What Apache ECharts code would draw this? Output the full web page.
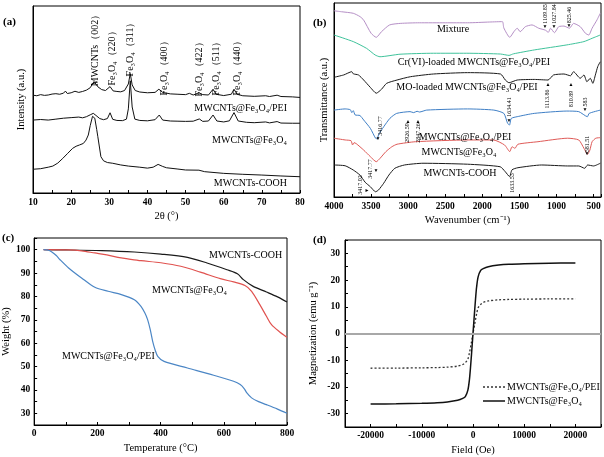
<!DOCTYPE html>
<html><head><meta charset="utf-8">
<script src="https://cdn.jsdelivr.net/npm/echarts@6/dist/echarts.min.js"></script>
<style>html,body{margin:0;padding:0;background:#fff}#c{width:604px;height:457px}</style>
</head><body><div id="c"></div>
<script>
// ---------- (a) XRD: [2theta, intensity a.u.] ----------
const xrdPEI = [[10,52.3],[11,52.0],[12,52.6],[13,52.2],[14,52.4],[15,52.9],[16,53.1],[17,52.8],[18,53.4],[18.5,54.5],[19,53.2],[20,53.6],[21,54.4],[22,53.8],[23,54.3],[24,55.0],[25,56.3],[26,59.6],[27,56.8],[28,55.3],[29,54.8],[30.2,56.9],[31,54.6],[32,54.3],[33,54.1],[34,54.8],[35,58.3],[35.5,63.9],[36,57.8],[36.8,54.8],[38,54.0],[40,53.6],[42,53.8],[43,55.5],[44,53.8],[46,53.0],[48,52.8],[50,52.6],[51,53.3],[52,52.4],[53.5,53.6],[54.5,52.6],[56,52.4],[57.2,55.5],[58,52.8],[60,52.1],[62,52.8],[62.7,55.5],[63.5,52.8],[65,52.0],[68,51.7],[71,52.0],[72,51.6],[74,52.3],[75,51.6],[78,51.4],[80,51.1]];
const xrdFe = [[10,39.0],[12,39.3],[14,39.0],[16,39.5],[18,40.0],[20,40.3],[22,40.6],[23,40.2],[24,40.8],[25,41.8],[25.8,42.6],[26.5,41.5],[27.5,39.8],[28.5,39.2],[29.5,39.8],[30.2,42.9],[30.9,39.4],[32,38.8],[33.5,38.7],[34.5,39.5],[35,45.0],[35.5,60.0],[36,46.0],[36.7,39.5],[38,38.8],[40,38.6],[42,39.2],[43.1,41.7],[44,39.0],[46,38.5],[48,38.4],[50,38.3],[52,38.4],[53.6,39.6],[54.5,38.3],[56,38.5],[57.2,41.7],[58.2,38.5],[60,38.0],[61.5,38.6],[62.7,43.0],[63.8,38.5],[66,37.8],[68,37.6],[71,38.0],[72,37.5],[74,38.2],[75,37.4],[78,37.3],[80,37.3]];
const xrdCOOH = [[10,12.7],[12,13.0],[14,13.8],[15.2,14.4],[16.5,16.0],[17.8,18.5],[19,21.0],[20.4,23.9],[21.3,25.0],[22.2,25.7],[23.2,26.5],[23.9,28.3],[24.5,31.0],[25,36.0],[25.6,41.0],[26.2,40.0],[26.7,34.0],[27,30.1],[27.8,19.4],[28.5,17.2],[29.5,16.3],[30.9,15.9],[33,15.0],[35,14.4],[38,13.8],[40,13.3],[41.5,13.8],[42.8,15.3],[44,14.2],[45,13.5],[48,12.8],[50,12.3],[53.5,12.2],[55,11.4],[60,10.5],[65,10.0],[70,9.6],[75,9.1],[80,8.7]];

// ---------- (b) FTIR: [wavenumber, transmittance a.u.] ----------
const ftirMixture = [[4000,96.0],[3900,95.5],[3740,94.7],[3650,93.0],[3600,91.2],[3500,84.4],[3430,82.3],[3360,85.2],[3250,88.7],[3100,89.5],[2850,89.8],[2500,89.8],[2200,89.8],[1900,90.2],[1730,90.4],[1710,87.1],[1630,82.3],[1575,85.2],[1530,87.0],[1490,85.2],[1420,87.8],[1330,88.7],[1240,87.0],[1150,86.0],[1110,84.9],[1080,87.0],[1028,84.7],[970,87.8],[900,88.1],[825,87.0],[770,89.5],[680,87.8],[610,84.4],[565,83.5],[520,87.0],[455,91.2],[410,94.7]];
const ftirCr = [[4000,83.5],[3740,80.1],[3560,76.6],[3445,73.2],[3380,72.3],[3110,73.6],[2660,74.1],[2210,74.1],[1755,73.7],[1640,73.0],[1580,73.8],[1300,75.8],[860,78.4],[630,80.1],[520,81.8],[410,83.5]];
const ftirMO = [[4000,61.7],[3870,62.9],[3760,64.6],[3740,63.5],[3670,62.9],[3600,60.3],[3510,56.5],[3430,53.5],[3360,55.5],[3290,58.6],[3150,60.3],[2970,62.0],[2660,63.4],[2200,64.1],[1755,63.4],[1690,60.3],[1640,58.9],[1530,60.3],[1300,60.6],[1114,60.3],[1040,62.9],[900,63.4],[811,62.5],[770,64.6],[680,61.2],[630,62.9],[590,59.4],[545,61.2],[510,58.6],[476,62.9],[444,67.2],[410,69.7]];
const ftirPEI = [[4000,44.8],[3850,45.4],[3780,45.0],[3760,43.5],[3740,44.5],[3715,42.3],[3650,42.0],[3600,39.7],[3510,35.4],[3440,30.3],[3417,30.0],[3400,32.0],[3330,36.2],[3245,40.6],[3155,43.1],[2975,44.0],[2926,43.5],[2880,44.2],[2847,43.8],[2750,44.8],[2200,45.4],[1845,44.8],[1710,43.1],[1660,38.0],[1634,37.1],[1610,40.5],[1530,41.4],[1300,43.1],[860,44.3],[700,44.0],[583,41.4],[560,43.1],[409,44.8]];
const ftirFe = [[4000,30.3],[3850,29.4],[3770,29.0],[3750,26.8],[3730,28.0],[3700,27.5],[3600,24.2],[3510,20.8],[3430,18.2],[3380,19.9],[3300,23.4],[3220,25.9],[3150,27.2],[2900,28.5],[2200,29.4],[1850,29.4],[1700,26.8],[1630,23.4],[1600,25.9],[1560,25.1],[1520,27.2],[1250,28.5],[850,30.3],[700,29.4],[630,25.1],[582,22.0],[550,24.2],[520,28.5],[470,30.3],[409,30.6]];
const ftirCOOH = [[4000,16.5],[3850,16.1],[3740,13.9],[3650,11.3],[3580,7.6],[3510,5.3],[3440,2.7],[3400,3.6],[3330,7.1],[3260,11.3],[3180,14.8],[3050,16.5],[2800,17.4],[2200,16.9],[1760,15.6],[1690,13.0],[1633,10.5],[1600,14.0],[1520,15.1],[1200,16.5],[850,16.0],[700,16.0],[620,14.8],[580,16.5],[500,16.0],[409,17.4]];

// ---------- (c) TGA: [temperature, weight %] ----------
const tgaCOOH = [[30,100],[100,99.9],[213,99.6],[317,99.0],[401,98.1],[485,96.7],[547,94.3],[610,91.4],[643,89.7],[662,87.2],[693,84.3],[735,81.9],[770,79.8],[800,77.6]];
const tgaFe = [[30,100],[109,99.9],[150,99.5],[192,98.6],[230,97.8],[265,96.7],[300,96.0],[338,95.3],[401,94.4],[464,92.9],[526,90.4],[589,87.6],[631,86.2],[667,84.7],[688,82.2],[714,76.5],[735,71.5],[751,67.9],[777,64.8],[800,62.5]];
const tgaPEI = [[30,100],[45,99.8],[56,99.0],[70,97.5],[82,95.7],[109,92.2],[150,87.9],[192,83.9],[234,82.2],[276,80.8],[317,78.6],[338,75.8],[350,73.0],[359,70.1],[367,66.0],[375,60.8],[383,57.0],[391,54.4],[411,52.2],[485,49.4],[568,46.3],[631,43.7],[652,42.3],[665,40.5],[673,38.7],[688,36.6],[710,35.0],[735,33.7],[770,31.8],[800,30.0]];

// ---------- (d) VSM: field (Oe) and magnetization (emu/g) ----------
const vsmField = [-20000,-15000,-10000,-7000,-5000,-3000,-2000,-1500,-1000,-700,-500,-300,-150,0,150,300,500,700,1000,1500,2000,3000,5000,7000,10000,15000,20000];
const vsmFe  = [-26.4,-26.3,-26.1,-25.9,-25.6,-25.0,-24.3,-23.6,-21.2,-17.3,-13.0,-8.0,-4.0,0,4.0,8.0,13.0,17.3,21.2,23.6,24.3,25.0,25.6,25.9,26.1,26.3,26.4];
const vsmPEI = [-13.0,-12.95,-12.85,-12.75,-12.6,-12.2,-11.6,-10.9,-9.6,-7.3,-5.3,-3.2,-1.6,0,1.6,3.2,5.3,7.3,9.6,10.9,11.6,12.2,12.6,12.75,12.85,12.95,13.0];
const vsmNames = ['MWCNTs@Fe₃O₄/PEI', 'MWCNTs@Fe₃O₄'];

const FONT = "'Liberation Serif','Times New Roman',serif";
const chart = echarts.init(document.getElementById('c'), null, {renderer:'canvas'});

function axisBase(gridIndex, extra) {
  return Object.assign({
    gridIndex, type:'value',
    axisLine:{show:true, onZero:false, lineStyle:{color:'#000', width:1}},
    axisTick:{show:true, inside:true, length:3, lineStyle:{color:'#000'}},
    splitLine:{show:false},
    axisLabel:{show:true, interval:0, color:'#000', fontFamily:FONT, fontSize:9.5, fontWeight:'bold', margin:5},
    nameLocation:'middle',
    nameTextStyle:{color:'#000', fontFamily:FONT, fontSize:10.5}
  }, extra);
}
function lbl(step, absv) {
  return function(v){ const r = Math.round(v); return (Math.abs(r) % step === 0) ? String(absv ? Math.abs(r) : r) : ''; };
}
function txt(x, y, s, o) {
  o = o || {};
  return {type:'text', x, y, rotation:o.rot||0, z:100,
    style:{text:s, fill:o.color||'#000', font:(o.bold?'bold ':'')+(o.size||10)+'px '+FONT,
      textAlign:o.align||'center', textVerticalAlign:'middle'}};
}
const R = Math.PI/2;

const grids = [
  {left:33, top:6, width:267, height:187},
  {left:334, top:3, width:268, height:194},
  {left:32, top:238, width:255, height:187},
  {left:345, top:240, width:256, height:187}
].map(g => Object.assign(g, {show:true, borderColor:'#000', borderWidth:1, backgroundColor:'transparent'}));

const xAxes = [
  axisBase(0, {min:10, max:80, interval:5, name:'2θ (°)', nameGap:18, axisLabel:Object.assign({}, axisBase(0).axisLabel, {formatter:lbl(10)})}),
  axisBase(1, {min:-4000, max:-400, interval:250, name:'Wavenumber (cm⁻¹)', nameGap:18, axisLabel:Object.assign({}, axisBase(1).axisLabel, {formatter:lbl(500,true)})}),
  axisBase(2, {min:0, max:800, interval:100, name:'Temperature (°C)', nameGap:18, axisLabel:Object.assign({}, axisBase(2).axisLabel, {formatter:lbl(200), margin:4})}),
  axisBase(3, {min:-25000, max:25000, interval:5000, name:'Field (Oe)', nameGap:18, axisLabel:Object.assign({}, axisBase(3).axisLabel, {formatter:lbl(10000), margin:4})})
];
const yAxes = [
  axisBase(0, {min:0, max:100, name:'Intensity (a.u.)', nameGap:6, axisTick:{show:false}, axisLabel:{show:false}}),
  axisBase(1, {min:0, max:100, name:'Transmittance (a.u.)', nameGap:4, axisTick:{show:false}, axisLabel:{show:false}}),
  axisBase(2, {min:25, max:105, interval:5, name:'Weight (%)', nameGap:22, axisLabel:Object.assign({}, axisBase(2).axisLabel, {formatter:lbl(10), margin:4})}),
  axisBase(3, {min:-35, max:35, interval:5, name:'Magnetization (emu g⁻¹)', nameGap:26, axisLabel:Object.assign({}, axisBase(3).axisLabel, {formatter:lbl(10), margin:5})})
];

function line(name, gi, data, color, extra) {
  return Object.assign({name, type:'line', xAxisIndex:gi, yAxisIndex:gi, data, symbol:'none', showSymbol:false,
    lineStyle:{color, width:1}, itemStyle:{color}, animation:false}, extra||{});
}
const neg = arr => arr.map(p => [-p[0], p[1]]);
const zip = (xs, ys) => xs.map((x,i) => [x, ys[i]]);

const series = [
  line('XRD PEI', 0, xrdPEI, '#111'),
  line('XRD Fe', 0, xrdFe, '#111'),
  line('XRD COOH', 0, xrdCOOH, '#111'),
  line('FTIR Mixture', 1, neg(ftirMixture), '#b58fc6', {smooth:0.2}),
  line('FTIR Cr', 1, neg(ftirCr), '#3fc39b', {smooth:0.2}),
  line('FTIR MO', 1, neg(ftirMO), '#1a1a1a', {smooth:0.2}),
  line('FTIR PEI', 1, neg(ftirPEI), '#3f7fc6', {smooth:0.2}),
  line('FTIR Fe', 1, neg(ftirFe), '#df5a57', {smooth:0.2}),
  line('FTIR COOH', 1, neg(ftirCOOH), '#1a1a1a', {smooth:0.2}),
  line('TGA COOH', 2, tgaCOOH, '#1a1a1a', {smooth:0.3, lineStyle:{color:'#1a1a1a', width:1.2}}),
  line('TGA Fe', 2, tgaFe, '#e0524f', {smooth:0.3, lineStyle:{color:'#e0524f', width:1.2}}),
  line('TGA PEI', 2, tgaPEI, '#4b86c5', {smooth:0.3, lineStyle:{color:'#4b86c5', width:1.2}}),
  line(vsmNames[0], 3, zip(vsmField, vsmPEI), '#333', {smooth:0.3, lineStyle:{color:'#333', width:1.3, type:[2,2]}}),
  line(vsmNames[1], 3, zip(vsmField, vsmFe), '#111', {smooth:0.3, lineStyle:{color:'#111', width:1.5},
    markLine:{silent:true, symbol:'none', label:{show:false}, animation:false, lineStyle:{color:'#a8a8a8', width:2, type:'solid'}, data:[{yAxis:0}]}})
];

const graphic = [
  txt(3, 22, '(a)', {bold:true, size:11, align:'left'}),
  txt(313, 23, '(b)', {bold:true, size:11, align:'left'}),
  txt(2, 238, '(c)', {bold:true, size:11, align:'left'}),
  txt(313, 240, '(d)', {bold:true, size:11, align:'left'}),
  // (a) peak labels
  txt(95, 48, 'MWCNTs（002）', {rot:R}),
  txt(112, 56, 'Fe₃O₄（220）', {rot:R}),
  txt(130, 47, 'Fe₃O₄（311）', {rot:R}),
  txt(164, 66, 'Fe₃O₄（400）', {rot:R}),
  txt(199, 67, 'Fe₃O₄（422）', {rot:R}),
  txt(216, 66, 'Fe₃O₄（511）', {rot:R}),
  txt(237, 66, 'Fe₃O₄（440）', {rot:R}),
  txt(287, 108, 'MWCNTs@Fe₃O₄/PEI', {align:'right'}),
  txt(287, 140, 'MWCNTs@Fe₃O₄', {align:'right'}),
  txt(287, 183, 'MWCNTs-COOH', {align:'right'}),
  // (b) curve labels
  txt(453, 29, 'Mixture'),
  txt(474, 62, 'Cr(VI)-loaded MWCNTs@Fe₃O₄/PEI'),
  txt(467, 87, 'MO-loaded MWCNTs@Fe₃O₄/PEI'),
  txt(465, 137, 'MWCNTs@Fe₃O₄/PEI'),
  txt(459, 152, 'MWCNTs@Fe₃O₄'),
  txt(460, 173, 'MWCNTs-COOH'),
  // (b) peak annotations
  txt(545, 14, '1109.85', {rot:R, size:6}),
  txt(554, 14, '1027.84', {rot:R, size:6}),
  txt(569, 15, '825.46', {rot:R, size:6}),
  txt(545, 27, '▼', {size:5}), txt(554, 27, '▼', {size:5}), txt(569, 26, '▼', {size:5}),
  txt(547, 99, '1113.86', {rot:R, size:6}),
  txt(571, 99, '810.89', {rot:R, size:6}),
  txt(548, 85, '▲', {size:5}), txt(571, 85, '▲', {size:5}),
  txt(509, 107, '1634.41', {rot:R, size:6}),
  txt(509, 121, '▼', {size:5}),
  txt(585, 102, '583', {rot:R, size:6}),
  txt(585, 110, '▼', {size:5}),
  txt(380, 126, '3416.77', {rot:R, size:6}),
  txt(378, 139, '▼', {size:5}),
  txt(407, 133, '2926.59', {rot:R, size:6}),
  txt(418, 133, '2847.26', {rot:R, size:6}),
  txt(408, 122, '▲', {size:5}), txt(418, 122, '▲', {size:5}),
  txt(587, 144, '581.51', {rot:R, size:6}),
  txt(587, 154, '▼', {size:5}),
  txt(360, 185, '3417.02', {rot:R, size:6}),
  txt(367, 191, '►', {size:5}),
  txt(370, 169, '3417.77', {rot:R, size:6}),
  txt(376, 171, '▼', {size:5}),
  txt(512, 183, '1633.53', {rot:R, size:6}),
  // (c) labels
  txt(209, 255, 'MWCNTs-COOH', {align:'left'}),
  txt(152, 290, 'MWCNTs@Fe₃O₄', {align:'left'}),
  txt(62, 356, 'MWCNTs@Fe₃O₄/PEI', {align:'left'}),
  // (d) legend
  {type:'line', shape:{x1:483, y1:387, x2:505, y2:387}, style:{stroke:'#333', lineWidth:1.3, lineDash:[2,2]}, z:100},
  txt(507, 387, vsmNames[0], {align:'left'}),
  {type:'line', shape:{x1:483, y1:401, x2:505, y2:401}, style:{stroke:'#111', lineWidth:1.5}, z:100},
  txt(507, 401, vsmNames[1], {align:'left'})
];

chart.setOption({
  animation:false,
  backgroundColor:'#fff',
  textStyle:{fontFamily:FONT},
  grid:grids, xAxis:xAxes, yAxis:yAxes, series, graphic
});
</script></body></html>
